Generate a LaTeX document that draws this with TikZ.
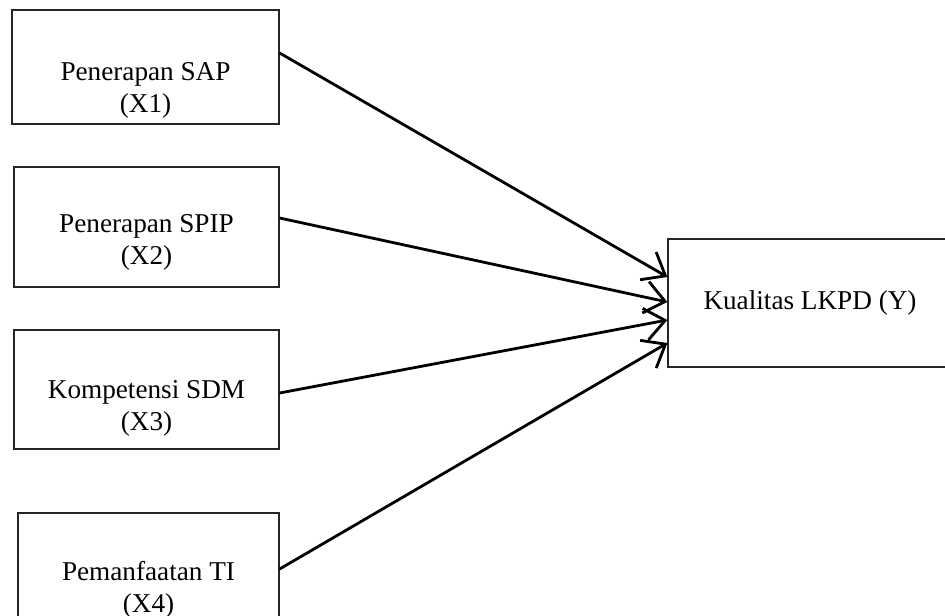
\documentclass[tikz,border=0pt]{standalone}
\usepackage{fontspec}
\setmainfont{Liberation Serif}
\usetikzlibrary{arrows.meta}
\tikzset{
    varbox/.style={draw=black!85,line width=0.6pt,inner sep=0pt},
    vartext/.style={align=center,font=\fontsize{13.6}{16}\selectfont},
    arr/.style={line width=1.4pt,-{Straight Barb[length=10pt,width=16pt,line width=1.4pt]}}
}

\begin{document}
\begin{tikzpicture}[x=0.5pt,y=-0.5pt]
\useasboundingbox (0,0) rectangle (945,615);
\node[varbox,minimum width=133.5pt,minimum height=57pt] (sap) at (145.5,67) {};
\node[varbox,minimum width=132.5pt,minimum height=60pt] (spip) at (146.5,227) {};
\node[varbox,minimum width=132.5pt,minimum height=59.5pt] (sdm) at (146.5,389.5) {};
\node[varbox,minimum width=130.5pt,minimum height=60pt] (ti) at (148.5,573) {};
\node[varbox,vartext,minimum width=142pt,minimum height=64pt] (lkpd) at (810,303) {Kualitas LKPD (Y)};
\node[vartext] (sapt) at (145.5,90) {Penerapan SAP\\(X1)};
\node[vartext] (spipt) at (146.5,242) {Penerapan SPIP\\(X2)};
\node[vartext] (sdmt) at (146.5,408) {Kompetensi SDM\\(X3)};
\node[vartext] (tit) at (148.5,590) {Pemanfaatan TI\\(X4)};
\foreach \src/\a/\b in {sap/7/13,spip/4.5/0.5,sdm/-1.75/-8.5,ti/2/-20} {
    \draw[arr] ([yshift=\a pt]\src.east) -- ([yshift=\b pt]lkpd.west);
}
\end{tikzpicture}
\end{document}
